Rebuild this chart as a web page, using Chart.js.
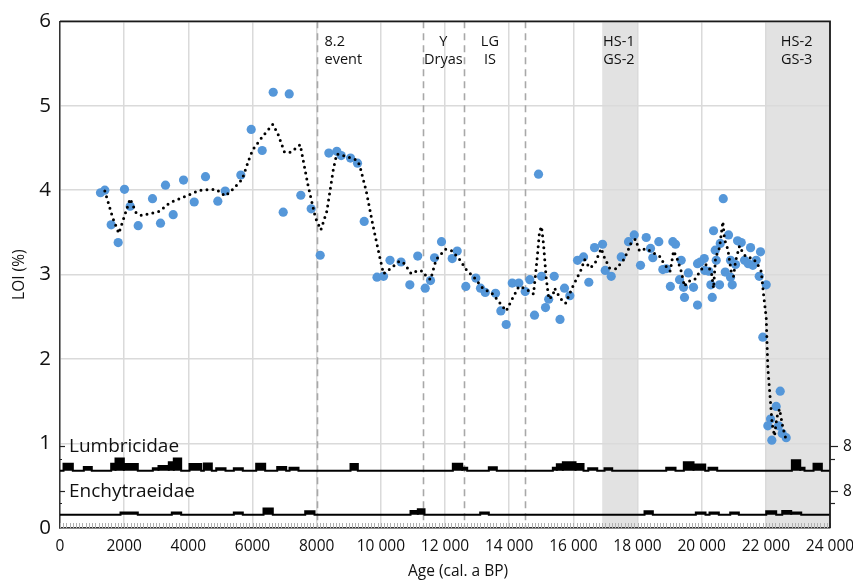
<!DOCTYPE html>
<html><head><meta charset="utf-8">
<script src="https://cdn.jsdelivr.net/npm/chart.js@4.4.1/dist/chart.umd.min.js"></script>
<style>html,body{margin:0;padding:0;background:#fff}#wrap{width:853px;height:580px}</style>
</head><body><div id="wrap"><canvas id="c" width="853" height="580"></canvas></div>
<script>
// ---- LOI measurements (age cal. a BP, LOI %) ----
const loiAge = [1262,1397,1595,1813,2010,2187,2437,2883,3133,3288,3528,3850,4183,4535,4919,5149,5636,5960,6302,6645,6957,7144,7506,7829,8110,8379,8628,8765,9055,9273,9482,9880,10084,10286,10630,10904,11150,11383,11548,11673,11891,12225,12381,12649,12961,13107,13254,13575,13740,13908,14095,14301,14500,14644,14790,14915,15008,15133,15232,15404,15585,15725,15891,16131,16318,16483,16661,16910,16994,17181,17493,17720,17898,18094,18272,18406,18477,18664,18789,18895,19025,19101,19185,19310,19362,19434,19465,19584,19746,19871,19871,19955,20080,20099,20224,20286,20330,20370,20423,20454,20557,20579,20673,20735,20838,20900,20900,20953,21056,21118,21234,21337,21452,21524,21596,21700,21794,21834,21906,22012,22062,22146,22187,22323,22396,22448,22510,22635];
const loiValue = [3.97,4.00,3.59,3.38,4.01,3.81,3.58,3.90,3.61,4.06,3.71,4.12,3.86,4.16,3.87,3.99,4.18,4.72,4.47,5.16,3.74,5.14,3.94,3.78,3.23,4.44,4.46,4.41,4.38,4.32,3.63,2.97,2.98,3.17,3.15,2.88,3.22,2.84,2.93,3.20,3.39,3.19,3.28,2.86,2.96,2.84,2.79,2.78,2.57,2.41,2.90,2.90,2.80,2.94,2.52,4.19,2.98,2.61,2.71,2.98,2.47,2.84,2.75,3.17,3.21,2.91,3.32,3.36,3.05,2.98,3.21,3.39,3.47,3.11,3.44,3.31,3.20,3.39,3.06,3.07,2.86,3.39,3.36,2.94,3.17,2.85,2.73,3.02,2.85,2.64,3.13,3.15,3.19,3.05,3.04,2.88,2.73,3.52,3.29,3.17,2.88,3.37,3.90,3.03,3.47,3.17,2.97,2.88,3.12,3.40,3.38,3.17,3.13,3.32,3.11,3.17,2.98,3.27,2.26,2.88,1.21,1.29,1.04,1.44,1.21,1.62,1.12,1.07];

// ---- running mean (dotted line) ----
const smoothAge = [1397,1646,1833,2187,2375,2551,3101,3413,3933,4348,4869,5149,5387,5680,5885,6010,6322,6633,6789,6998,7206,7487,7724,7964,8130,8317,8525,8628,8921,9232,9336,9545,9750,9959,10084,10323,10582,10738,10947,11153,11310,11414,11548,11725,12016,12225,12453,12661,12920,13179,13490,13699,13908,14064,14301,14530,14759,14874,14946,15008,15071,15154,15237,15362,15414,15591,15756,15984,16245,16349,16505,16661,16869,16972,17128,17337,17596,17804,17938,18063,18272,18478,18686,18842,19020,19123,19226,19362,19465,19568,19777,19986,20143,20299,20370,20433,20557,20660,20712,20816,20920,20993,21056,21180,21305,21440,21576,21720,21856,21928,22012,22062,22135,22198,22271,22344,22427,22531,22615];
const smoothValue = [3.99,3.67,3.49,3.90,3.73,3.70,3.75,3.85,3.93,4.00,4.01,3.93,4.01,4.13,4.36,4.48,4.64,4.78,4.67,4.45,4.45,4.54,4.07,3.67,3.53,3.75,4.26,4.43,4.40,4.36,4.30,3.99,3.59,3.22,3.01,3.08,3.16,3.13,3.01,3.05,3.04,2.98,2.94,3.18,3.30,3.28,3.18,3.06,2.96,2.84,2.77,2.67,2.57,2.69,2.86,2.83,2.77,3.20,3.51,3.57,3.36,2.96,2.71,2.75,2.84,2.72,2.66,2.86,3.06,3.18,3.08,3.12,3.31,3.20,3.08,3.07,3.19,3.38,3.42,3.28,3.31,3.26,3.22,3.12,3.04,3.28,3.20,3.04,2.86,2.92,2.94,3.06,3.12,3.04,2.84,3.20,3.32,3.63,3.42,3.30,3.04,2.98,3.16,3.34,3.24,3.20,3.20,3.14,3.04,2.77,2.49,1.90,1.54,1.23,1.09,1.31,1.41,1.19,1.07];

// ---- Lumbricidae counts (bin start, bin end, count) ----
const lumbStart = [110,742,1595,1730,1989,2893,3070,3391,3547,4036,4483,4869,5418,6115,6770,7154,9055,12244,12537,13366,15361,15486,15673,16069,16464,16972,18895,19444,19746,20213,22811,23072,23487];
const lumbEnd   = [400,991,1730,1989,2425,3070,3391,3547,3777,4401,4732,5159,5698,6395,7050,7434,9283,12537,12692,13615,15486,15673,16069,16318,16745,17212,19185,19746,20111,20485,23072,23206,23746];
const lumbCount = [2.3,1.2,2.3,4.0,2.2,0.8,1.5,2.8,4.0,2.2,2.4,0.8,0.8,2.3,1.2,1.0,2.2,2.3,1.0,1.1,1.0,2.1,2.8,2.2,0.8,0.8,1.0,2.8,2.0,1.0,3.4,1.0,2.3];

// ---- Enchytraeidae counts ----
const enchStart = [1886,3485,5418,6343,7643,10925,11153,13097,18219,19818,20245,20890,22012,22511,22791];
const enchEnd   = [2425,3777,5698,6633,7933,11153,11362,13366,18478,20120,20535,21159,22323,22791,23103];
const enchCount = [0.8,0.8,0.8,2.1,1.2,1.3,1.8,0.8,1.2,0.8,0.8,0.8,1.2,1.3,0.8];

// ---- axes / annotations ----
const xTicks = [0,2000,4000,6000,8000,10000,12000,14000,16000,18000,20000,22000,24000];
const yTicks = [0,1,2,3,4,5,6];
const countTicks = [4,8];
const eventLines = [8000,11300,12600,14500];
const shadeStart = [16900,22000];
const shadeEnd = [18000,24000];
const labelAge = [8245,11950,13400,17420,22960];
const labelText = [['8.2','event'],['Y','Dryas'],['LG','IS'],['HS-1','GS-2'],['HS-2','GS-3']];
const labelAlign = ['left','center','center','center','center'];

const FONT = "'Open Sans', 'Noto Sans', sans-serif";
Chart.defaults.font.family = FONT;

function histogram(starts, ends, counts){
  const pts = [{x:0,y:0}];
  for (let i=0;i<starts.length;i++){
    pts.push({x:starts[i],y:0},{x:starts[i],y:counts[i]},{x:ends[i],y:counts[i]},{x:ends[i],y:0});
  }
  pts.push({x:24000,y:0});
  return pts;
}
const fmt = v => v >= 10000 ? String(Math.floor(v/1000)) + ' ' + String(v%1000).padStart(3,'0') : String(v);

const deco = {
  id:'deco',
  beforeDraw(chart){
    const {ctx, chartArea:a, scales:{x}} = chart;
    ctx.save();
    ctx.fillStyle = '#e2e2e2';
    for (let i=0;i<shadeStart.length;i++){
      const x1 = x.getPixelForValue(shadeStart[i]), x2 = x.getPixelForValue(shadeEnd[i]);
      ctx.fillRect(x1, a.top, x2-x1, a.bottom-a.top);
    }
    ctx.restore();
  },
  beforeDatasetsDraw(chart){
    const {ctx, chartArea:a, scales:{x}} = chart;
    ctx.save();
    ctx.strokeStyle = '#a8a8a8'; ctx.lineWidth = 1.6; ctx.setLineDash([7,5]);
    eventLines.forEach(v=>{
      const px = Math.round(x.getPixelForValue(v))+0.5;
      ctx.beginPath(); ctx.moveTo(px,a.top); ctx.lineTo(px,a.bottom); ctx.stroke();
    });
    ctx.setLineDash([]);
    ctx.strokeStyle = '#b0b0b0'; ctx.lineWidth = 1;
    for (let v=0; v<=24000; v+=100){
      const px = Math.round(x.getPixelForValue(v))+0.5;
      ctx.beginPath(); ctx.moveTo(px,a.bottom-5); ctx.lineTo(px,a.bottom); ctx.stroke();
    }
    ctx.fillStyle = '#111'; ctx.font = "14.5px " + FONT; ctx.textBaseline = 'middle';
    labelText.forEach((lines,i)=>{
      ctx.textAlign = labelAlign[i];
      const px = x.getPixelForValue(labelAge[i]);
      lines.forEach((t,j)=> ctx.fillText(t, px, a.top + 21 + j*18));
    });
    ctx.restore();
  },
  afterDatasetsDraw(chart){
    const {ctx, chartArea:a, scales:{yL,yE}} = chart;
    ctx.save();
    ctx.strokeStyle = '#1a1a1a'; ctx.lineWidth = 1.8;
    ctx.beginPath();
    ctx.moveTo(a.left, a.top); ctx.lineTo(a.right, a.top); ctx.lineTo(a.right, a.bottom);
    ctx.stroke();
    ctx.lineWidth = 1.2; ctx.strokeStyle = '#222';
    ctx.fillStyle = '#111'; ctx.font = "15.5px " + FONT; ctx.textAlign='left'; ctx.textBaseline='middle';
    [yL,yE].forEach(s=>{
      countTicks.forEach(v=>{
        const py = Math.round(s.getPixelForValue(v))+0.5;
        const len = v===8 ? 8 : 5;
        ctx.beginPath(); ctx.moveTo(a.right, py); ctx.lineTo(a.right+len, py); ctx.stroke();
        ctx.beginPath(); ctx.moveTo(a.left, py); ctx.lineTo(a.left+len-3, py); ctx.stroke();
        if (v===8) ctx.fillText('8', a.right+13, py);
      });
    });
    ctx.font = "19px " + FONT; ctx.textBaseline='alphabetic';
    ctx.fillText('Lumbricidae', a.left+9, yL.getPixelForValue(6));
    ctx.fillText('Enchytraeidae', a.left+9, yE.getPixelForValue(6));
    ctx.font = "15.5px " + FONT; ctx.textAlign='center'; ctx.textBaseline='middle';
    ctx.fillText('Age (cal. a BP)', (a.left+a.right)/2 + 13, 572);
    ctx.restore();
  }
};

const cntUnit = 3.04 / (508.5/6); // LOI units per count
const lumbBase = 0.679, enchBase = 0.156;

new Chart(document.getElementById('c'), {
  type:'scatter',
  data:{
    datasets:[
      { label:'running mean', data: smoothAge.map((v,i)=>({x:v,y:smoothValue[i]})), showLine:true,
        borderColor:'#000', borderWidth:3, borderDash:[0,6], borderCapStyle:'round', pointRadius:0, tension:0, order:0, yAxisID:'y' },
      { label:'LOI', data: loiAge.map((v,i)=>({x:v,y:loiValue[i]})), backgroundColor:'#5597d9', borderWidth:0,
        pointRadius:4.6, order:1, yAxisID:'y' },
      { label:'Lumbricidae', data: histogram(lumbStart,lumbEnd,lumbCount), showLine:true, fill:'origin',
        backgroundColor:'#000', borderColor:'#000', borderWidth:2, pointRadius:0, tension:0, order:2, yAxisID:'yL' },
      { label:'Enchytraeidae', data: histogram(enchStart,enchEnd,enchCount), showLine:true, fill:'origin',
        backgroundColor:'#000', borderColor:'#000', borderWidth:2, pointRadius:0, tension:0, order:2, yAxisID:'yE' }
    ]
  },
  options:{
    responsive:false, animation:false, devicePixelRatio:1,
    layout:{padding:{left:0,right:23,top:19,bottom:0}},
    plugins:{legend:{display:false}, tooltip:{enabled:false}},
    events:[],
    scales:{
      x:{ type:'linear', min:0, max:24000,
        afterBuildTicks: s => { s.ticks = xTicks.map(v=>({value:v})); },
        afterFit: s => { s.height = 52; s.paddingLeft = 0; s.paddingRight = 0; },
        ticks:{ callback: v => fmt(v), font:{size:15.5}, color:'#111', padding:9, maxRotation:0, autoSkip:false },
        grid:{ color:'#dadada', lineWidth:1.5, drawTicks:false },
        border:{ color:'#333', width:1.5 } },
      y:{ min:0, max:6,
        afterBuildTicks: s => { s.ticks = yTicks.map(v=>({value:v})); },
        afterFit: s => { s.width = 60; },
        ticks:{ font:{size:20.5}, color:'#111', padding:9 },
        grid:{ color:'#dadada', lineWidth:1.5, drawTicks:false },
        border:{ color:'#333', width:1.5 },
        title:{ display:true, text:'LOI (%)', font:{size:15.5}, color:'#111', padding:{top:10,bottom:0} } },
      yL:{ display:false, min: -lumbBase/cntUnit, max: (6-lumbBase)/cntUnit },
      yE:{ display:false, min: -enchBase/cntUnit, max: (6-enchBase)/cntUnit }
    }
  },
  plugins:[deco]
});
</script></body></html>
